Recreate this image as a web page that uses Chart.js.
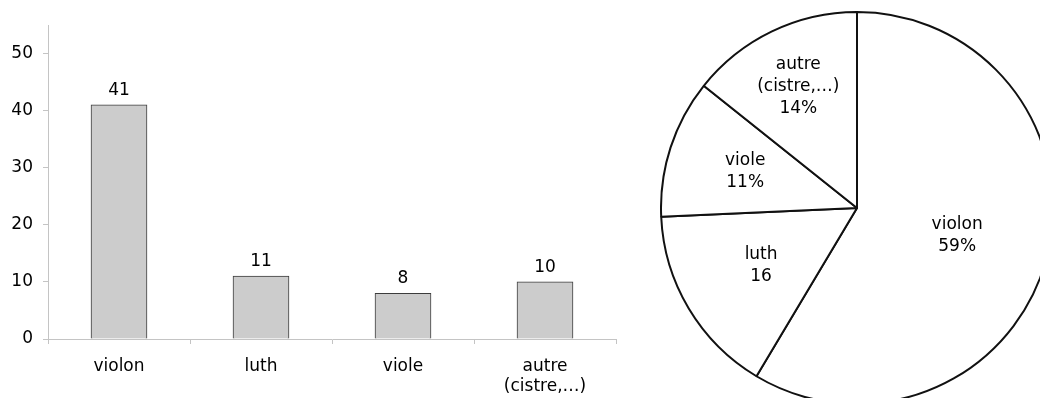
<!DOCTYPE html>
<html>
<head>
<meta charset="utf-8">
<script src="https://cdn.jsdelivr.net/npm/chart.js@4/dist/chart.umd.min.js"></script>
<style>
  html, body { margin: 0; padding: 0; background: #fff; overflow: hidden; }
  body { width: 1040px; height: 398px; position: relative; }
  #barBox { position: absolute; left: 0; top: 0; width: 640px; height: 398px; }
  #pieBox { position: absolute; left: 660px; top: 11px; width: 394px; height: 394px; }
</style>
</head>
<body>
<div id="barBox"><canvas id="bars" width="640" height="398"></canvas></div>
<div id="pieBox"><canvas id="pie" width="394" height="394"></canvas></div>
<script>
// instrument counts
const categories = [['violon'], ['luth'], ['viole'], ['autre', '(cistre,…)']];
const counts = [41, 11, 8, 10];
const yTicks = [0, 10, 20, 30, 40, 50];
// pie slice texts (luth has no % in the original)
const pieLabels = [['violon', '59%'], ['luth', '16'], ['viole', '11%'], ['autre', '(cistre,…)', '14%']];

const FONT = { family: 'Verdana, "DejaVu Sans", sans-serif', size: 17 };
const AXIS = '#c4c4c4';

// value labels above the bars
const barValues = {
  id: 'barValues',
  afterDatasetsDraw(chart) {
    const ctx = chart.ctx;
    ctx.save();
    ctx.font = `${FONT.size}px ${FONT.family}`;
    ctx.fillStyle = '#000';
    ctx.textAlign = 'center';
    ctx.textBaseline = 'alphabetic';
    chart.getDatasetMeta(0).data.forEach((bar, i) => {
      ctx.fillText(String(counts[i]), bar.x, bar.y - 10);
    });
    ctx.restore();
  }
};

// labels inside pie slices
const sliceLabels = {
  id: 'sliceLabels',
  afterDatasetsDraw(chart, args, opts) {
    const ctx = chart.ctx;
    ctx.save();
    ctx.font = `${FONT.size}px ${FONT.family}`;
    ctx.fillStyle = '#000';
    ctx.textAlign = 'center';
    ctx.textBaseline = 'middle';
    const lh = 22;
    chart.getDatasetMeta(0).data.forEach((arc, i) => {
      const p = arc.getProps(['x', 'y', 'startAngle', 'endAngle', 'outerRadius']);
      const mid = (p.startAngle + p.endAngle) / 2;
      const r = p.outerRadius * opts.radius[i];
      const cx = p.x + Math.cos(mid) * r;
      const cy = p.y + Math.sin(mid) * r;
      const lines = pieLabels[i];
      lines.forEach((t, k) => {
        ctx.fillText(t, cx, cy + (k - (lines.length - 1) / 2) * lh);
      });
    });
    ctx.restore();
  }
};

new Chart(document.getElementById('bars'), {
  type: 'bar',
  data: {
    labels: categories,
    datasets: [{
      data: counts,
      backgroundColor: '#cccccc',
      borderColor: '#3c3c3c',
      borderWidth: 1,
      borderSkipped: 'bottom',
      barThickness: 56
    }]
  },
  options: {
    responsive: false,
    animation: false,
    devicePixelRatio: 1,
    layout: { padding: { top: 25, right: 24, left: 0, bottom: 0 } },
    plugins: { legend: { display: false }, tooltip: { enabled: false } },
    scales: {
      x: {
        grid: { drawOnChartArea: false, drawTicks: true, tickLength: 5, color: AXIS, offset: true },
        border: { color: AXIS },
        ticks: { font: FONT, color: '#000', padding: 12, maxRotation: 0 },
        afterFit: s => { s.height = 59; }
      },
      y: {
        min: 0,
        max: 55,
        grid: { drawOnChartArea: false, drawTicks: true, tickLength: 5, color: AXIS },
        border: { color: AXIS },
        ticks: { stepSize: 10, font: FONT, color: '#000', padding: 10 },
        afterBuildTicks: s => { s.ticks = yTicks.map(v => ({ value: v })); },
        afterFit: s => { s.width = 48; }
      }
    }
  },
  plugins: [barValues]
});

new Chart(document.getElementById('pie'), {
  type: 'pie',
  data: {
    labels: categories.map(c => c.join(' ')),
    datasets: [{
      data: counts,
      backgroundColor: '#ffffff',
      borderColor: '#111111',
      borderWidth: 2
    }]
  },
  options: {
    responsive: false,
    animation: false,
    devicePixelRatio: 1,
    layout: { padding: 0 },
    plugins: {
      legend: { display: false },
      tooltip: { enabled: false },
      sliceLabels: { radius: [0.53, 0.57, 0.6, 0.69] }
    }
  },
  plugins: [sliceLabels]
});
</script>
</body>
</html>
